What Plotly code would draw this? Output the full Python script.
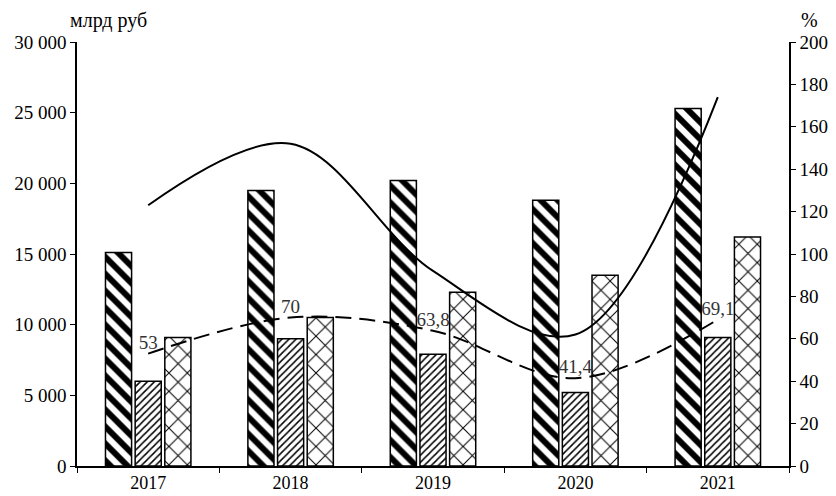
import plotly.graph_objects as go
from plotly.subplots import make_subplots

years = ["2017", "2018", "2019", "2020", "2021"]
bars_a = [15100, 19500, 20200, 18800, 25300]
bars_b = [6000, 9000, 7900, 5200, 9100]
bars_c = [9100, 10500, 12300, 13500, 16200]
line_solid = [123, 152, 92, 62, 174]
line_dash = [53, 70, 63.8, 41.4, 69.1]
dash_labels = ["53", "70", "63,8", "41,4", "69,1"]
left_ticks = [0, 5000, 10000, 15000, 20000, 25000, 30000]
left_ticktext = ["0", "5 000", "10 000", "15 000", "20 000", "25 000", "30 000"]
right_ticks = list(range(0, 201, 20))

FONT = "Times New Roman, Liberation Serif, serif"

fig = make_subplots(specs=[[{"secondary_y": True}]])

bar_line = dict(color="black", width=1.5)
fig.add_trace(go.Bar(x=years, y=bars_a, marker=dict(color="white", line=bar_line,
    pattern=dict(shape="\\", fgcolor="black", bgcolor="white", fgopacity=1, size=12, solidity=0.5)),
    showlegend=False), secondary_y=False)
fig.add_trace(go.Bar(x=years, y=bars_b, marker=dict(color="white", line=bar_line,
    pattern=dict(shape="/", fgcolor="black", bgcolor="white", fgopacity=1, size=5, solidity=0.3)),
    showlegend=False), secondary_y=False)
fig.add_trace(go.Bar(x=years, y=bars_c, marker=dict(color="white", line=bar_line,
    pattern=dict(shape="x", fgcolor="black", bgcolor="white", fgopacity=1, size=13, solidity=0.15)),
    showlegend=False), secondary_y=False)

fig.add_trace(go.Scatter(x=years, y=line_solid, mode="lines",
    line=dict(color="black", width=2, shape="spline", smoothing=1.0),
    showlegend=False), secondary_y=True)
fig.add_trace(go.Scatter(x=years, y=line_dash, mode="lines+text",
    text=dash_labels, textposition="top center",
    textfont=dict(family=FONT, size=19, color="#333"),
    line=dict(color="black", width=2, dash="16px,8px", shape="spline", smoothing=1.0),
    showlegend=False, cliponaxis=False), secondary_y=True)

# page body has an 8px margin; figure is sized to fit inside the 836x496 window
fig.update_layout(
    width=828, height=488,
    margin=dict(l=69, r=47, t=34, b=30),
    paper_bgcolor="white", plot_bgcolor="white",
    font=dict(family=FONT, size=19, color="black"),
    barmode="group", bargap=0.375, bargroupgap=0.12,
    showlegend=False,
    annotations=[
        dict(text="млрд руб", xref="paper", yref="paper", x=-0.012, y=1.0,
             xanchor="left", yanchor="bottom", yshift=8, showarrow=False,
             font=dict(family=FONT, size=20, color="black")),
        dict(text="%", xref="paper", yref="paper", x=1.0, y=1.0,
             xanchor="left", yanchor="bottom", xshift=10, yshift=9, showarrow=False,
             font=dict(family=FONT, size=20, color="black")),
    ],
)
fig.update_xaxes(domain=[0, 1], showline=True, linecolor="black", linewidth=1.5, ticks="outside",
                 tickson="boundaries", ticklen=5, tickcolor="black", showgrid=False,
                 tickfont=dict(family=FONT, size=18), automargin=False)
fig.update_yaxes(range=[0, 30000], tickvals=left_ticks, ticktext=left_ticktext,
                 showline=True, linecolor="black", linewidth=1.5, ticks="outside",
                 ticklen=5, tickcolor="black", showgrid=False, zeroline=False,
                 automargin=False, secondary_y=False)
fig.update_yaxes(range=[0, 200], tickvals=right_ticks,
                 showline=True, linecolor="black", linewidth=1.5, ticks="outside",
                 ticklen=5, tickcolor="black", showgrid=False, zeroline=False,
                 automargin=False, secondary_y=True)

fig.write_html("out.html")
